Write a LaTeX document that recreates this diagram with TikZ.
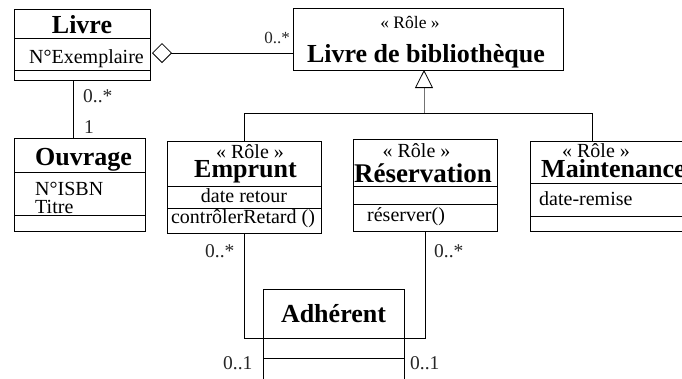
\documentclass[tikz,border=0pt]{standalone}
\usepackage{fontspec}
\setmainfont{Liberation Serif}
\usetikzlibrary{arrows.meta}
\begin{document}
\begin{tikzpicture}[x=1pt,y=-1pt,
  box/.style={draw, line width=0.8pt, inner sep=0pt, outer sep=0pt, anchor=north west},
  ttl/.style={font=\fontsize{26}{28}\selectfont\bfseries, inner sep=0pt, anchor=base},
  role/.style={font=\fontsize{20}{22}\selectfont, inner sep=0pt, anchor=base},
  txt/.style={font=\fontsize{20}{22}\selectfont, inner sep=0pt, anchor=base west},
  ctxt/.style={font=\fontsize{20}{22}\selectfont, inner sep=0pt, anchor=base},
  mult/.style={font=\fontsize{19.5}{21}\selectfont, inner sep=0pt, anchor=base west, text=black!85},
  conn/.style={line width=0.8pt},
]
\useasboundingbox (0,0) rectangle (682,378);
\clip (0,0) rectangle (682,378);

% class boxes
\node[box, minimum width=136pt, minimum height=71pt] (livre) at (14,9) {};
\node[box, minimum width=270pt, minimum height=62pt] (ldb) at (293,8) {};
\node[box, minimum width=131pt, minimum height=93pt] (ouvrage) at (14,138) {};
\node[box, minimum width=154pt, minimum height=92pt] (emprunt) at (167,141) {};
\node[box, minimum width=144pt, minimum height=92pt] (resa) at (353,139) {};
\node[box, minimum width=170pt, minimum height=90pt] (maint) at (530,141) {};
\node[box, minimum width=141pt, minimum height=120pt] (adh) at (263,289) {};

% compartment separators
\draw[conn] (livre.west |- 0,38) -- (livre.east |- 0,38);
\draw[conn] (livre.west |- 0,70) -- (livre.east |- 0,70);
\draw[conn] (ouvrage.west |- 0,172) -- (ouvrage.east |- 0,172);
\draw[conn] (ouvrage.west |- 0,215) -- (ouvrage.east |- 0,215);
\draw[conn] (emprunt.west |- 0,186) -- (emprunt.east |- 0,186);
\draw[conn] (emprunt.west |- 0,208) -- (emprunt.east |- 0,208);
\draw[conn] (resa.west |- 0,186) -- (resa.east |- 0,186);
\draw[conn] (resa.west |- 0,204) -- (resa.east |- 0,204);
\draw[conn] (maint.west |- 0,183) -- (maint.east |- 0,183);
\draw[conn] (maint.west |- 0,216) -- (maint.east |- 0,216);
\draw[conn] (adh.west |- 0,338) -- (adh.east |- 0,338);
\draw[conn] (adh.west |- 0,358) -- (adh.east |- 0,358);

% texts
\node[ttl] (livreT) at (82,33) {Livre};
\node[txt] (livreA) at (29,63) {N°Exemplaire};
\node[role, font=\fontsize{17.5}{20}\selectfont] (ldbR) at (410,28) {« Rôle »};
\node[ttl] (ldbT) at (426,62) {Livre de bibliothèque};
\node[ttl] (ouvT) at (83.5,165) {Ouvrage};
\node[txt] (ouvA1) at (35,195) {N°ISBN};
\node[txt] (ouvA2) at (35,213) {Titre};
\node[role] (empR) at (250,158) {« Rôle »};
\node[ttl] (empT) at (245.5,177) {Emprunt};
\node[ctxt] (empA) at (244,202) {date retour};
\node[ctxt] (empO) at (243,223) {contrôlerRetard ()};
\node[role] (resR) at (416.5,157) {« Rôle »};
\node[ttl, font=\fontsize{27}{29}\selectfont\bfseries] (resT) at (423,182) {Réservation};
\node[txt] (resO) at (367,221) {réserver()};
\node[role] (mntR) at (596,157) {« Rôle »};
\node[ttl, anchor=base west] (mntT) at (541,177) {Maintenance};
\node[txt] (mntA) at (539,205) {date-remise};
\node[ttl] (adhT) at (333.5,322) {Adhérent};

% aggregation Livre <>-- Livre de bibliothèque
\draw[conn, -{Diamond[open,length=20pt,width=20pt]}, shorten >=2pt]
  (ldb.west |- 0,53) -- (livre.east |- 0,53);
\node[mult, anchor=base east, font=\fontsize{17}{19}\selectfont] (m1) at (290,43) {0..*};

% association Livre -- Ouvrage
\coordinate (lo) at (73,0);
\draw[conn] (livre.south -| lo) -- (ouvrage.north -| lo);
\node[mult] (m2) at (83,102) {0..*};
\node[mult] (m3) at (84,133) {1};

% generalisation of the roles
\coordinate (hub) at (424,113);
\coordinate (mtop) at (592,141);
\draw[conn, draw=black!55, -{Triangle[open,length=18pt,width=18pt,color=black]}]
  (hub) -- (hub |- ldb.south);
\draw[conn] (emprunt.north) |- (hub);
\draw[conn] (hub) -| (mtop);

% associations with Adhérent
\coordinate (adhL) at (263,338);
\coordinate (adhR) at (404,338);
\draw[conn] (emprunt.south) |- (adhL);
\draw[conn] (resa.south) |- (adhR);
\node[mult] (m4) at (205,257) {0..*};
\node[mult] (m5) at (434,257) {0..*};
\node[mult] (m6) at (223,369) {0..1};
\node[mult] (m7) at (410,369) {0..1};
\end{tikzpicture}
\end{document}
